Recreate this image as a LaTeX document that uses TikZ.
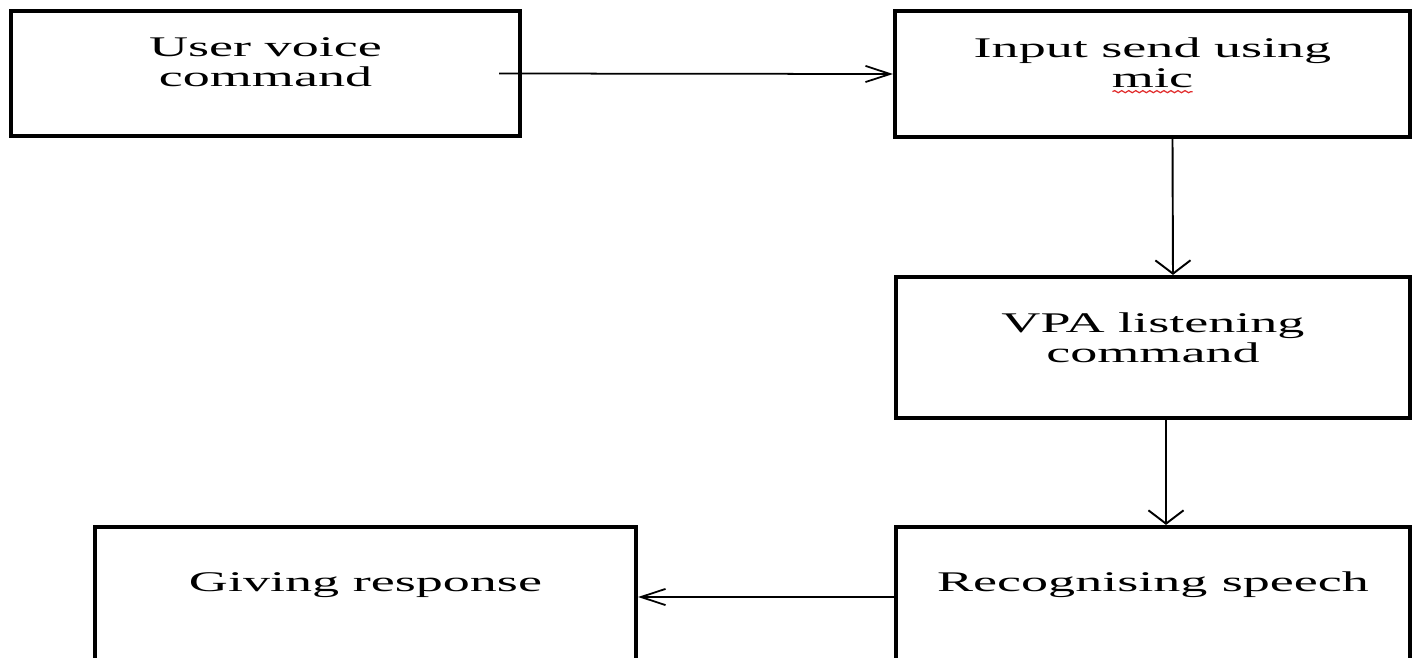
\documentclass[tikz,border=0pt]{standalone}
\usepackage{fontspec}
\usepackage{tikz}
\usetikzlibrary{arrows.meta,calc,positioning,decorations.pathmorphing}
\newfontfamily\flowfont[FakeStretch=1.9]{Liberation Serif}
\definecolor{spellred}{RGB}{225,45,45}

\begin{document}
\begin{tikzpicture}[
  blk/.style={draw,line width=1.2pt,inner sep=0pt},
  lbl/.style={font=\flowfont\fontsize{8.1}{8.5}\selectfont,align=center,inner sep=0pt},
  hflow/.style={line width=0.5pt,-{Straight Barb[length=7pt,width=4.6pt]}},
  vflow/.style={line width=0.55pt,-{Straight Barb[length=3.8pt,width=10pt]}}]
  \useasboundingbox (0,0) rectangle (14.19,6.57);
  % boxes: name/x/y/width/height
  \foreach \n/\x/\y/\w/\h in {user/2.655/5.835/5.09/1.25, mic/11.525/5.83/5.15/1.26,
      listen/11.53/3.095/5.14/1.41, speech/11.53/0.60/5.14/1.40, respond/3.655/0.60/5.41/1.40}
    \node[blk,minimum width=\w cm,minimum height=\h cm] (\n) at (\x,\y) {};
  \node[lbl] (userTxt) at ([yshift=0.11cm]user) {User voice\\command};
  \node[lbl] (micTxt) at ([yshift=0.11cm]mic) {Input send using\\mic};
  \node[lbl] (listenTxt) at ([yshift=0.1cm]listen) {VPA listening\\command};
  \node[lbl] (speechTxt) at ([yshift=-0.6cm]speech.north) {Recognising\enspace speech};
  \node[lbl] (respondTxt) at ([yshift=-0.6cm]respond.north) {Giving response};
  % spell-check squiggle under "mic"
  \draw[spellred,line width=0.35pt,decorate,decoration={snake,amplitude=0.3pt,segment length=2pt}]
    ($(micTxt.south)+(-0.4,-0.03)$) -- ($(micTxt.south)+(0.4,-0.03)$);
  \draw[hflow] ([xshift=-0.23cm]user.east) -- (mic.west);
  \draw[vflow] ([xshift=0.2cm]mic.south) -- ([xshift=0.2cm]listen.north);
  \draw[vflow] ([xshift=0.13cm]listen.south) -- ([xshift=0.13cm]speech.north);
  \draw[hflow] (speech.west) -- (respond.east);
\end{tikzpicture}
\end{document}
